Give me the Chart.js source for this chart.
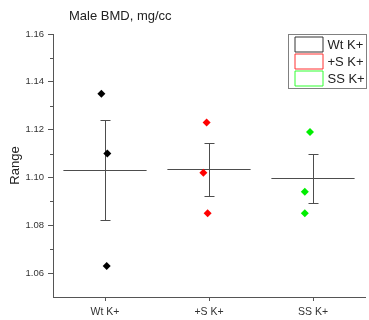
<!DOCTYPE html>
<html>
<head>
<meta charset="utf-8">
<script src="https://cdn.jsdelivr.net/npm/chart.js@4"></script>
<style>
  html, body { margin: 0; padding: 0; background: #fff; }
</style>
</head>
<body>
<canvas id="bmd-chart" width="369" height="320"></canvas>
<script>
const groups = ["Wt K+", "+S K+", "SS K+"];
const wtValues = [1.135, 1.110, 1.063];
const sValues = [1.123, 1.102, 1.085];
const ssValues = [1.119, 1.094, 1.085];
// horizontal scatter of each point around its group centre
const wtOffsets = [-0.035, 0.022, 0.016];
const sOffsets = [-0.023, -0.054, -0.013];
const ssOffsets = [-0.029, -0.079, -0.079];
const means = [1.1031, 1.1034, 1.0997];
const sems = [0.0211, 0.0110, 0.0102];
const yMajorTicks = [1.06, 1.08, 1.10, 1.12, 1.14, 1.16];
const yMinorTicks = [1.07, 1.09, 1.11, 1.13, 1.15];

const FONT = "Arial, 'Liberation Sans', sans-serif";

function points(values, offsets, groupIndex) {
    return values.map((v, j) => ({ x: groupIndex + 1 + offsets[j], y: v }));
}

const legendColors = ["#333333", "#ff3030", "#30ff30"];

// mean line + SEM whiskers for each group, under the points
const summaryBars = {
    id: "summaryBars",
    beforeDatasetsDraw(chart) {
        const xs = chart.scales.x, ys = chart.scales.y;
        const ctx = chart.ctx;
        ctx.save();
        ctx.strokeStyle = "#4d4d4d";
        ctx.lineWidth = 1;
        groups.forEach((g, i) => {
            const cx = Math.round(xs.getPixelForValue(i + 1)) + 0.5;
            const ym = Math.round(ys.getPixelForValue(means[i])) + 0.5;
            const yt = Math.round(ys.getPixelForValue(means[i] + sems[i])) + 0.5;
            const yb = Math.round(ys.getPixelForValue(means[i] - sems[i])) + 0.5;
            ctx.beginPath();
            ctx.moveTo(xs.getPixelForValue(i + 0.6), ym);
            ctx.lineTo(xs.getPixelForValue(i + 1.4), ym);
            ctx.moveTo(cx, yt);
            ctx.lineTo(cx, yb);
            ctx.moveTo(cx - 5, yt);
            ctx.lineTo(cx + 5, yt);
            ctx.moveTo(cx - 5, yb);
            ctx.lineTo(cx + 5, yb);
            ctx.stroke();
        });
        ctx.restore();
    }
};

// minor ticks, title and boxed legend
const decorations = {
    id: "decorations",
    afterDraw(chart) {
        const ctx = chart.ctx;
        const ys = chart.scales.y;
        const area = chart.chartArea;
        ctx.save();
        ctx.strokeStyle = "#555555";
        ctx.lineWidth = 1;
        ctx.beginPath();
        yMinorTicks.forEach(v => {
            const y = Math.round(ys.getPixelForValue(v)) + 0.5;
            ctx.moveTo(area.left - 3, y);
            ctx.lineTo(area.left, y);
        });
        ctx.stroke();

        ctx.fillStyle = "#222";
        ctx.font = "13px " + FONT;
        ctx.textBaseline = "middle";
        ctx.textAlign = "left";
        ctx.fillText("Male BMD, mg/cc", 69, 16);

        const bx = 288.5, by = 34.5, bw = 78, bh = 54;
        ctx.strokeStyle = "#808080";
        ctx.strokeRect(bx, by, bw, bh);
        // swatches sit on whole pixels so their outlines come out soft
        chart.data.datasets.forEach((ds, i) => {
            const sy = 37 + i * 17;
            ctx.beginPath();
            ctx.rect(295, sy, 28, 15);
            ctx.strokeStyle = legendColors[i];
            ctx.stroke();
            ctx.fillStyle = "#222";
            ctx.fillText(ds.label, bx + 39, sy + 8);
        });
        ctx.restore();
    }
};

new Chart(document.getElementById("bmd-chart"), {
    type: "scatter",
    data: {
        datasets: [{
            label: groups[0],
            data: points(wtValues, wtOffsets, 0),
            backgroundColor: "#000000"
        }, {
            label: groups[1],
            data: points(sValues, sOffsets, 1),
            backgroundColor: "#ff0000"
        }, {
            label: groups[2],
            data: points(ssValues, ssOffsets, 2),
            backgroundColor: "#00ee00"
        }]
    },
    options: {
        responsive: false,
        animation: false,
        layout: { padding: { top: 34, right: 2, left: 0, bottom: 0 } },
        elements: {
            point: { pointStyle: "rectRot", radius: 4, borderWidth: 0, hoverRadius: 4 }
        },
        plugins: {
            legend: { display: false },
            tooltip: { enabled: false }
        },
        scales: {
            x: {
                type: "linear",
                min: 0.5,
                max: 3.5,
                afterBuildTicks: scale => { scale.ticks = groups.map((g, i) => ({ value: i + 1 })); },
                afterFit: scale => { scale.height = 23; },
                ticks: {
                    callback: v => groups[v - 1],
                    font: { family: FONT, size: 10.5 },
                    color: "#333",
                    padding: 5,
                    maxRotation: 0
                },
                grid: { drawOnChartArea: false, tickLength: 4, color: "#555" },
                border: { color: "#555", width: 1 }
            },
            y: {
                min: 1.05,
                max: 1.16,
                afterBuildTicks: scale => { scale.ticks = yMajorTicks.map(v => ({ value: v })); },
                afterFit: scale => { scale.width = 53; },
                ticks: {
                    callback: v => v.toFixed(2),
                    font: { family: FONT, size: 9.5 },
                    color: "#333",
                    padding: 4
                },
                grid: { drawOnChartArea: false, tickLength: 5, color: "#555" },
                border: { color: "#555", width: 1 },
                title: {
                    display: true,
                    text: "Range",
                    font: { family: FONT, size: 13 },
                    color: "#222",
                    padding: { top: 8, bottom: 0 }
                }
            }
        }
    },
    plugins: [summaryBars, decorations]
});
</script>
</body>
</html>
